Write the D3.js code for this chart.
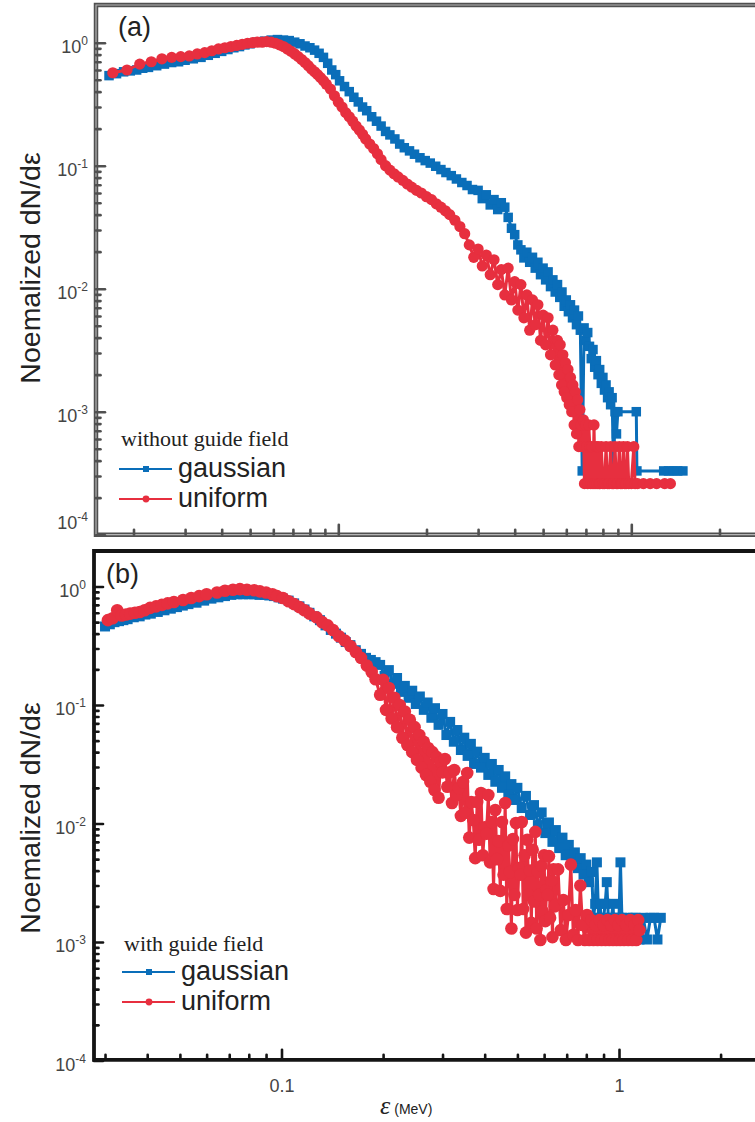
<!DOCTYPE html>
<html lang="en">
<head>
<meta charset="utf-8">
<title>Normalized dN/dε spectra</title>
<script src="https://d3js.org/d3.v7.min.js"></script>
<style>
  body { margin: 0; background: #fff; }
  svg { display: block; font-family: "Liberation Sans", Arial, sans-serif; }
</style>
</head>
<body>
<svg id="chart" width="755" height="1122"></svg>
<script>
// ---- data: [energy (MeV), normalized dN/dε] ----

// (a) without guide field
const gaussianNoGuide = [
  [0.0165,0.54],[0.0175,0.56],[0.0185,0.58],[0.0195,0.59],[0.0205,0.60],[0.0215,0.62],[0.0225,0.63],
  [0.024,0.65],[0.0255,0.67],[0.027,0.69],[0.0285,0.70],[0.030,0.72],[0.032,0.74],[0.034,0.76],
  [0.036,0.79],[0.038,0.82],[0.040,0.85],[0.042,0.88],[0.044,0.91],[0.046,0.93],[0.048,0.96],
  [0.050,0.98],[0.053,1.01],[0.056,1.03],[0.059,1.05],[0.062,1.06],[0.065,1.05],[0.068,1.04],
  [0.071,1.01],[0.074,0.98],[0.077,0.94],[0.080,0.91],[0.083,0.87],[0.086,0.82],[0.089,0.76],
  [0.092,0.68],[0.095,0.60],[0.098,0.55],[0.101,0.49],[0.105,0.44],[0.109,0.40],[0.113,0.36],
  [0.117,0.33],[0.121,0.30],[0.125,0.28],[0.130,0.25],[0.135,0.23],[0.140,0.21],[0.145,0.19],
  [0.150,0.178],[0.156,0.165],[0.162,0.150],[0.168,0.140],[0.175,0.132],[0.182,0.124],[0.190,0.116],
  [0.198,0.110],[0.206,0.105],[0.215,0.099],[0.224,0.093],[0.233,0.088],[0.243,0.083],[0.253,0.078],
  [0.264,0.073],[0.275,0.069],[0.287,0.064],[0.30,0.063],[0.31,0.054],[0.32,0.058],[0.33,0.048],
  [0.34,0.053],[0.35,0.044],[0.36,0.050],[0.37,0.046],[0.38,0.038],[0.39,0.031],[0.40,0.0275],
  [0.41,0.0227],[0.42,0.0207],[0.43,0.0178],[0.44,0.0198],[0.45,0.0164],[0.46,0.018],[0.47,0.0147],
  [0.48,0.0164],[0.49,0.013],[0.50,0.0147],[0.51,0.0118],[0.52,0.0137],[0.53,0.0104],[0.54,0.0118],
  [0.55,0.0094],[0.56,0.0108],[0.57,0.0085],[0.58,0.0094],[0.59,0.0072],[0.60,0.0081],[0.61,0.0065],
  [0.62,0.0074],[0.63,0.0058],[0.64,0.0067],[0.65,0.0051],[0.66,0.006],[0.67,0.0046],[0.68,0.00033],
  [0.69,0.0048],[0.70,0.0038],[0.71,0.0044],[0.72,0.0034],[0.73,0.0027],[0.74,0.0032],[0.75,0.0023],
  [0.76,0.0026],[0.77,0.002],[0.78,0.0022],[0.79,0.0017],[0.80,0.0019],[0.81,0.0015],[0.82,0.00165],
  [0.83,0.0013],[0.84,0.00145],[0.85,0.00114],[0.86,0.0013],[0.87,0.00033],[0.88,0.001],[0.89,0.00066],
  [0.90,0.001],[1.04,0.001],[1.045,0.00033],[1.29,0.00033],[1.34,0.00033],[1.39,0.00033],[1.44,0.00033],
  [1.50,0.00033]
];
const uniformNoGuide = [
  [0.017,0.57],[0.019,0.60],[0.021,0.67],[0.023,0.70],[0.025,0.74],[0.027,0.76],[0.029,0.77],
  [0.031,0.78],[0.033,0.81],[0.035,0.83],[0.037,0.86],[0.039,0.89],[0.041,0.91],[0.043,0.93],
  [0.045,0.95],[0.047,0.97],[0.049,0.99],[0.051,1.0],[0.053,1.01],[0.055,1.01],[0.057,1.02],
  [0.059,1.01],[0.061,0.99],[0.063,0.96],[0.065,0.93],[0.067,0.89],[0.069,0.85],[0.071,0.81],
  [0.073,0.77],[0.075,0.73],[0.077,0.69],[0.079,0.65],[0.081,0.61],[0.083,0.58],[0.085,0.55],
  [0.087,0.52],[0.089,0.49],[0.091,0.46],[0.094,0.42],[0.097,0.37],[0.100,0.33],[0.103,0.30],
  [0.106,0.27],[0.109,0.25],[0.112,0.23],[0.115,0.21],[0.118,0.195],[0.121,0.18],[0.124,0.165],
  [0.128,0.15],[0.132,0.138],[0.136,0.125],[0.140,0.112],[0.145,0.100],[0.150,0.092],[0.155,0.086],
  [0.160,0.081],[0.166,0.076],[0.172,0.071],[0.178,0.067],[0.185,0.063],[0.192,0.060],[0.200,0.056],
  [0.208,0.053],[0.216,0.049],[0.224,0.046],[0.232,0.043],[0.240,0.040],[0.250,0.036],[0.260,0.032],
  [0.270,0.028],[0.28,0.0227],[0.29,0.018],[0.30,0.021],[0.31,0.0153],[0.32,0.0188],[0.33,0.0130],
  [0.34,0.0172],[0.35,0.0108],[0.36,0.0143],[0.37,0.0089],[0.38,0.0147],[0.39,0.0081],[0.40,0.0114],
  [0.41,0.0067],[0.42,0.0108],[0.43,0.0058],[0.44,0.0089],[0.45,0.0046],[0.46,0.0081],[0.47,0.0051],
  [0.48,0.0074],[0.49,0.0038],[0.50,0.0061],[0.51,0.0035],[0.52,0.0058],[0.53,0.0029],[0.54,0.0046],
  [0.55,0.0024],[0.56,0.0038],[0.566,0.0020],[0.572,0.0035],[0.578,0.00165],[0.584,0.0029],
  [0.59,0.00145],[0.596,0.0025],[0.602,0.0013],[0.608,0.0022],[0.614,0.00114],[0.62,0.0019],
  [0.626,0.001],[0.632,0.00165],[0.638,0.00078],[0.644,0.00145],[0.65,0.00066],[0.656,0.00125],
  [0.662,0.00052],[0.668,0.00104],[0.674,0.00078],[0.68,0.00052],[0.686,0.00086],[0.692,0.00026],
  [0.698,0.00078],[0.704,0.00052],[0.71,0.00026],[0.716,0.00078],[0.722,0.00052],[0.728,0.00026],
  [0.734,0.00052],[0.74,0.00026],[0.746,0.00078],[0.752,0.00026],[0.758,0.00052],[0.764,0.00026],
  [0.77,0.00052],[0.776,0.00026],[0.782,0.00026],[0.79,0.00052],[0.80,0.00026],[0.81,0.00026],
  [0.82,0.00052],[0.83,0.00026],[0.84,0.00026],[0.85,0.00052],[0.86,0.00026],[0.87,0.00026],
  [0.88,0.00052],[0.89,0.00026],[0.90,0.00026],[0.91,0.00052],[0.92,0.00026],[0.93,0.00026],
  [0.94,0.00052],[0.95,0.00026],[0.96,0.00026],[0.97,0.00052],[0.98,0.00026],[1.00,0.00026],
  [1.02,0.00052],[1.03,0.00026],[1.05,0.00026],[1.10,0.00026],[1.16,0.00026],[1.22,0.00026],
  [1.30,0.00026],[1.36,0.00026]
];

// (b) with guide field
const gaussianGuide = [
  [0.030,0.46],[0.031,0.48],[0.032,0.50],[0.033,0.51],[0.034,0.52],[0.035,0.53],[0.0365,0.55],
  [0.038,0.56],[0.0395,0.58],[0.041,0.59],[0.043,0.61],[0.045,0.63],[0.047,0.65],[0.049,0.67],
  [0.051,0.69],[0.053,0.71],[0.056,0.73],[0.059,0.76],[0.062,0.79],[0.065,0.81],[0.068,0.83],
  [0.071,0.85],[0.074,0.86],[0.077,0.86],[0.080,0.86],[0.083,0.86],[0.086,0.85],[0.089,0.85],
  [0.092,0.84],[0.095,0.83],[0.098,0.81],[0.101,0.79],[0.105,0.76],[0.109,0.72],[0.113,0.68],
  [0.117,0.64],[0.121,0.60],[0.125,0.56],[0.130,0.52],[0.135,0.47],[0.140,0.43],[0.145,0.40],
  [0.150,0.37],[0.155,0.34],[0.160,0.32],[0.166,0.29],[0.172,0.27],[0.178,0.25],[0.184,0.24],
  [0.190,0.23],[0.196,0.218],[0.202,0.176],[0.208,0.197],[0.214,0.151],[0.220,0.169],[0.226,0.129],
  [0.232,0.145],[0.238,0.115],[0.244,0.132],[0.250,0.102],[0.257,0.118],[0.264,0.091],[0.271,0.105],
  [0.278,0.078],[0.285,0.094],[0.292,0.068],[0.30,0.084],[0.308,0.0558],[0.316,0.072],[0.324,0.049],
  [0.332,0.0615],[0.340,0.0417],[0.348,0.053],[0.356,0.0372],[0.364,0.047],[0.372,0.0318],
  [0.380,0.0404],[0.39,0.0296],[0.40,0.0358],[0.41,0.0257],[0.42,0.0318],[0.43,0.0225],[0.44,0.0283],
  [0.45,0.0200],[0.46,0.025],[0.47,0.0174],[0.48,0.0215],[0.49,0.0158],[0.50,0.020],[0.515,0.0135],
  [0.53,0.0171],[0.545,0.0118],[0.56,0.0143],[0.575,0.0097],[0.59,0.0124],[0.605,0.0083],[0.62,0.0102],
  [0.635,0.007],[0.65,0.0088],[0.665,0.0062],[0.68,0.0076],[0.695,0.0054],[0.71,0.0066],[0.725,0.0047],
  [0.74,0.0057],[0.755,0.0042],[0.77,0.0051],[0.785,0.0037],[0.80,0.0045],[0.815,0.0032],[0.83,0.0039],
  [0.84,0.0016],[0.85,0.0021],[0.86,0.0047],[0.87,0.0016],[0.88,0.0021],[0.89,0.00105],[0.90,0.0016],
  [0.91,0.0021],[0.92,0.0032],[0.93,0.0016],[0.94,0.00105],[0.95,0.0016],[0.96,0.0021],[0.97,0.00105],
  [0.98,0.0016],[0.99,0.00105],[1.00,0.0016],[1.01,0.0047],[1.02,0.0016],[1.04,0.00105],[1.06,0.0016],
  [1.08,0.00105],[1.10,0.0016],[1.12,0.0016],[1.15,0.00105],[1.18,0.0016],[1.21,0.00105],[1.24,0.0016],
  [1.27,0.0016],[1.30,0.00105],[1.33,0.0016]
];
const uniformGuide = [
  [0.0306,0.52],[0.0316,0.54],[0.0326,0.63],[0.0336,0.57],[0.0346,0.58],[0.0356,0.59],[0.0368,0.60],
  [0.038,0.61],[0.0393,0.63],[0.0408,0.66],[0.0425,0.68],[0.0442,0.70],[0.046,0.72],[0.048,0.74],
  [0.0511,0.77],[0.054,0.80],[0.057,0.83],[0.060,0.86],[0.0644,0.89],[0.068,0.92],[0.0718,0.94],
  [0.0753,0.95],[0.079,0.94],[0.083,0.93],[0.0863,0.91],[0.090,0.89],[0.094,0.86],[0.097,0.83],
  [0.101,0.80],[0.105,0.75],[0.109,0.71],[0.113,0.67],[0.117,0.63],[0.121,0.59],[0.127,0.55],
  [0.132,0.50],[0.137,0.47],[0.142,0.43],[0.148,0.38],[0.154,0.35],[0.160,0.315],[0.166,0.28],
  [0.172,0.25],[0.179,0.215],[0.185,0.19],[0.190,0.165],
  [0.196,0.122],[0.200,0.163],[0.204,0.091],[0.208,0.139],[0.212,0.077],[0.216,0.115],[0.220,0.065],
  [0.224,0.100],[0.228,0.053],[0.232,0.088],[0.236,0.046],[0.240,0.075],[0.244,0.040],[0.248,0.065],
  [0.252,0.0344],[0.256,0.0558],[0.260,0.0296],[0.264,0.049],[0.268,0.0257],[0.272,0.0434],
  [0.276,0.0225],[0.280,0.040],[0.284,0.0192],[0.288,0.0365],[0.292,0.0165],[0.296,0.033],
  [0.300,0.027],[0.305,0.035],[0.310,0.0204],[0.315,0.027],[0.320,0.0149],[0.325,0.0283],[0.330,0.0174],
  [0.335,0.0199],[0.340,0.0116],[0.345,0.0224],[0.350,0.0123],[0.355,0.0267],[0.360,0.0076],
  [0.365,0.0152],[0.370,0.0107],[0.375,0.0051],[0.380,0.0152],[0.385,0.0073],[0.390,0.0181],
  [0.395,0.0054],[0.400,0.0093],[0.405,0.0082],[0.410,0.0174],[0.415,0.0047],[0.420,0.0103],
  [0.425,0.0028],[0.430,0.013],[0.435,0.005],[0.440,0.0071],[0.445,0.0027],[0.450,0.0103],
  [0.455,0.0037],[0.460,0.0149],[0.465,0.0019],[0.470,0.0065],[0.475,0.0039],[0.480,0.0013],
  [0.485,0.0074],[0.490,0.0025],[0.495,0.0101],[0.500,0.00186],[0.505,0.0042],[0.510,0.0037],
  [0.515,0.0103],[0.520,0.0019],[0.525,0.0054],[0.530,0.0012],[0.535,0.0073],[0.540,0.0025],
  [0.545,0.004],[0.550,0.00145],[0.555,0.006],[0.560,0.0022],[0.565,0.0085],[0.570,0.0013],
  [0.575,0.0039],[0.580,0.0025],[0.585,0.00104],[0.590,0.0044],[0.595,0.0018],[0.600,0.0054],
  [0.605,0.0015],[0.610,0.00275],[0.615,0.0025],[0.620,0.0053],[0.625,0.0016],[0.630,0.0033],
  [0.635,0.0011],[0.640,0.0041],[0.645,0.002],
  [0.648,0.00205],[0.660,0.0041],[0.672,0.00126],[0.684,0.00226],[0.696,0.00104],[0.708,0.00169],
  [0.720,0.0045],[0.732,0.00115],[0.744,0.00186],[0.756,0.00104],[0.768,0.003],[0.780,0.00139],
  [0.792,0.00104],[0.804,0.00169],[0.816,0.00104],[0.828,0.00153],[0.840,0.00104],[0.852,0.00139],
  [0.864,0.00104],[0.876,0.00153],[0.888,0.00104],[0.90,0.00139],[0.912,0.00104],[0.924,0.00153],
  [0.936,0.00104],[0.948,0.00139],[0.96,0.00104],[0.972,0.00153],[0.984,0.00104],[0.996,0.00139],
  [1.008,0.00104],[1.02,0.00153],[1.035,0.00104],[1.05,0.00139],[1.065,0.00104],[1.08,0.00153],
  [1.095,0.00104],[1.11,0.00139],[1.125,0.00104],[1.14,0.00153],[1.15,0.00126]
];

const seriesNames = ["gaussian", "uniform"];
const seriesColors = ["#0a6eb9", "#e72f3f"];
const yTickExps = [0, -1, -2, -3, -4];
const xTickLabels = { 0.1: "0.1", 1: "1" };

// ---- layout ----
const panels = [
  { tag: "(a)", title: "without guide field", series: [gaussianNoGuide, uniformNoGuide],
    left: 96, top: 5, bottom: 534.7, xPx: [338.3, 631.3], yPx: [42.7, 534.7],
    axisColor: "#505050", doubleLine: true, xLabels: false, markerSize: 9.5, dotR: 5.6,
    tagPos: [118, 36], legend: { x: 119, titleY: 446, rows: [469, 499] }, yTitle: 268, bottomLabelLift: 16 },
  { tag: "(b)", title: "with guide field", series: [gaussianGuide, uniformGuide],
    left: 94, top: 551, bottom: 1059.8, xPx: [281.5, 619], yPx: [586.5, 1060.5],
    axisColor: "#141414", doubleLine: false, xLabels: true, markerSize: 10, dotR: 6.3,
    tagPos: [106, 583], legend: { x: 122, titleY: 951, rows: [972, 1002] }, yTitle: 818, bottomLabelLift: 0 }
];

const svg = d3.select("#chart");
const rightEdge = 800; // frames run off the right side of the page

panels.forEach((p, pi) => {
  const x = d3.scaleLog().domain([0.1, 1]).range(p.xPx);
  const y = d3.scaleLog().domain([1, 1e-4]).range(p.yPx);
  const g = svg.append("g");

  const clipId = "clip" + pi;
  g.append("clipPath").attr("id", clipId).append("rect")
    .attr("x", p.left).attr("y", p.top).attr("width", rightEdge - p.left).attr("height", p.bottom - p.top);

  // data: line + symbols, gaussian first, uniform on top
  const line = d3.line().x(d => x(d[0])).y(d => y(d[1]));
  const plot = g.append("g").attr("clip-path", `url(#${clipId})`);
  p.series.forEach((s, si) => {
    const c = seriesColors[si];
    plot.append("path").attr("d", line(s)).attr("fill", "none")
      .attr("stroke", c).attr("stroke-width", 3).attr("stroke-linejoin", "round");
    if (si === 0) {
      plot.append("g").selectAll("rect").data(s).join("rect")
        .attr("x", d => x(d[0]) - p.markerSize / 2).attr("y", d => y(d[1]) - p.markerSize / 2)
        .attr("width", p.markerSize).attr("height", p.markerSize).attr("fill", c);
    } else {
      plot.append("g").selectAll("circle").data(s).join("circle")
        .attr("cx", d => x(d[0])).attr("cy", d => y(d[1])).attr("r", p.dotR).attr("fill", c);
    }
  });

  // frame
  const frame = `M${rightEdge},${p.top}H${p.left}V${p.bottom}H${rightEdge}`;
  g.append("path").attr("d", frame).attr("fill", "none")
    .attr("stroke", p.axisColor).attr("stroke-width", p.doubleLine ? 4.5 : 3.8);
  if (p.doubleLine) {
    g.append("path").attr("d", frame).attr("fill", "none").attr("stroke", "#b4b4b4").attr("stroke-width", 1.2);
  }

  // ticks (inward)
  const minorX = [], minorY = [];
  [0.01, 0.1, 1].forEach(d => { for (let k = 2; k <= 9; k++) minorX.push(+(k * d).toPrecision(2)); });
  [0.1, 0.01, 0.001, 0.0001].forEach(d => { for (let k = 2; k <= 9; k++) minorY.push(+(k * d).toPrecision(2)); });
  const inX = v => x(v) > p.left + 3 && x(v) < 755;
  const inY = v => y(v) > p.top + 4 && y(v) < p.bottom - 3;

  const styleTicks = sel => {
    sel.select(".domain").remove();
    sel.selectAll(".tick line").attr("stroke", p.axisColor).attr("stroke-width", 2.6).attr("stroke-linecap", "round");
  };

  g.append("g").attr("transform", `translate(0,${p.bottom})`)
    .call(d3.axisBottom(x).tickValues(minorX.filter(inX)).tickSize(-5).tickFormat(""))
    .call(styleTicks);
  const xMajor = g.append("g").attr("transform", `translate(0,${p.bottom})`)
    .call(d3.axisBottom(x).tickValues([0.1, 1]).tickSize(-10).tickPadding(19)
      .tickFormat(d => p.xLabels ? xTickLabels[d] : ""))
    .call(styleTicks);
  xMajor.selectAll("text").attr("font-size", 18).attr("fill", "#444")
    .attr("font-family", "'Liberation Sans', Arial, sans-serif");

  g.append("g").attr("transform", `translate(${p.left},0)`)
    .call(d3.axisLeft(y).tickValues(minorY.filter(inY)).tickSize(-4.5).tickFormat(""))
    .call(styleTicks);
  g.append("g").attr("transform", `translate(${p.left},0)`)
    .call(d3.axisLeft(y).tickValues(yTickExps.map(e => Math.pow(10, e))).tickSize(-9).tickFormat(""))
    .call(styleTicks);

  // y tick labels 10^n
  const yl = g.append("g").selectAll("text").data(yTickExps).join("text")
    .attr("x", p.left - 8)
    .attr("y", e => y(Math.pow(10, e)) + 10 - (e === -4 ? p.bottomLabelLift : 0))
    .attr("text-anchor", "end").attr("fill", "#444").attr("font-size", 18);
  yl.append("tspan").text("10");
  yl.append("tspan").attr("dy", -8).attr("font-size", 12).text(e => String(e));

  // y title
  g.append("text")
    .attr("transform", `translate(40,${p.yTitle}) rotate(-90)`)
    .attr("text-anchor", "middle").attr("font-size", 28.5).attr("fill", "#222")
    .text("Noemalized dN/dε");

  // panel tag
  g.append("text").attr("x", p.tagPos[0]).attr("y", p.tagPos[1])
    .attr("font-size", 27).attr("fill", "#222").text(p.tag);

  // legend
  const L = p.legend;
  const lg = g.append("g");
  lg.append("text").attr("x", L.x + 2).attr("y", L.titleY)
    .attr("font-family", "'Liberation Serif', 'Times New Roman', serif")
    .attr("font-size", 22).attr("fill", "#222").text(p.title);
  seriesNames.forEach((name, si) => {
    const ly = L.rows[si], c = seriesColors[si];
    lg.append("line").attr("x1", L.x).attr("x2", L.x + 53).attr("y1", ly).attr("y2", ly)
      .attr("stroke", c).attr("stroke-width", 1.8);
    if (si === 0) {
      lg.append("rect").attr("x", L.x + 24).attr("y", ly - 3).attr("width", 6).attr("height", 6).attr("fill", c);
    } else {
      lg.append("circle").attr("cx", L.x + 27).attr("cy", ly).attr("r", 3.4).attr("fill", c);
    }
    lg.append("text").attr("x", L.x + 59).attr("y", ly + 8)
      .attr("font-size", 27).attr("fill", "#222").text(name);
  });
});

// x title under panel (b)
const xt = svg.append("text").attr("x", 380).attr("y", 1114).attr("fill", "#222");
xt.append("tspan").attr("font-family", "'Liberation Serif', serif").attr("font-style", "italic")
  .attr("font-size", 26).text("ε");
xt.append("tspan").attr("dx", 4).attr("font-size", 14).text("(MeV)");
</script>
</body>
</html>
